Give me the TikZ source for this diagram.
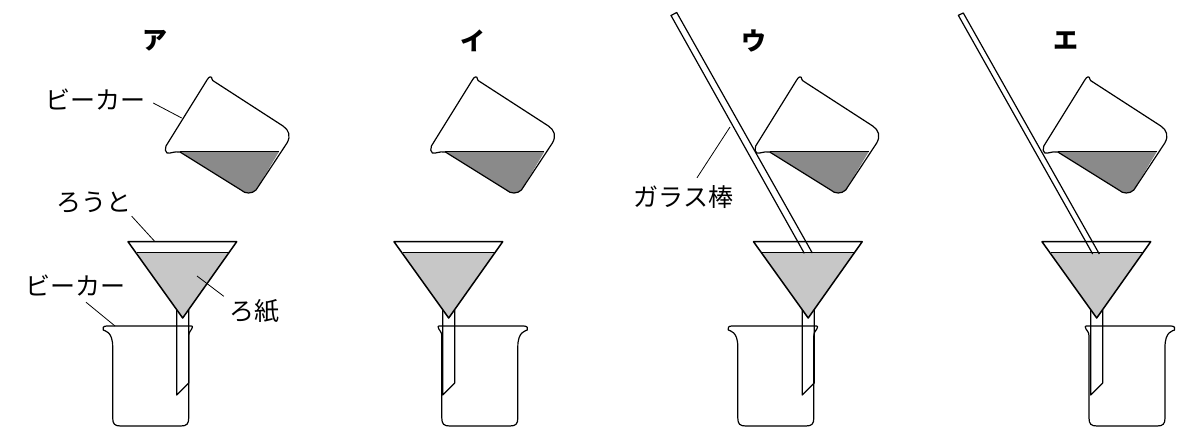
\documentclass[tikz,border=0pt]{standalone}
\usepackage{fontspec}
\usepackage{tikz}
\usetikzlibrary{calc}
\newfontfamily\jpfont{Noto Sans CJK JP}
\definecolor{LiquidGray}{gray}{0.54}
\definecolor{PaperGray}{gray}{0.78}
\tikzset{
  outline/.style={black,line width=1.2pt,line join=round},
  leader/.style={black,line width=0.8pt},
  label/.style={font=\jpfont\fontsize{25}{25}\selectfont,inner sep=0pt,text height=22pt,text depth=3pt},
  heading/.style={font=\jpfont\bfseries\fontsize{25}{25}\selectfont,inner sep=0pt},
  pourbeaker/.pic={
    \fill[LiquidGray] (180,151.7) -- (279,151.7) -- (256,190)
      .. controls (252,194) and (245,194) .. (241,190) -- cycle;
    \draw[outline] (180,151.7) -- (279,151.7);
    \draw[outline] (166,146) -- (207,80) .. controls (209,76) and (212,76) .. (212,79)
      .. controls (212,80) and (213,81) .. (215,82) -- (283,126)
      .. controls (289,130) and (291,136) .. (287,143) -- (256,190)
      .. controls (252,194) and (245,194) .. (241,190) -- (180,152)
      .. controls (174,151) and (170,154) .. (167,153)
      .. controls (165,152) and (165,149) .. (166,146);
  },
  funnelset/.pic={
    \draw[outline] (176.7,310) -- (176.7,395) -- (188.7,383) -- (188.7,310);
    \fill[PaperGray] (136.5,252.7) -- (228.8,252.7) -- (182.7,318) -- cycle;
    \draw[outline] (136.5,252.7) -- (228.8,252.7);
    \draw[outline,line width=1.5pt] (128,241.7) -- (236.7,241.7) -- (182.7,318) -- cycle;
  },
  glassbeaker/.pic={
    \draw[outline] (41,326) -- (-44,326) .. controls (-47,326) and (-49,328) .. (-47.5,330)
      .. controls (-46,331) and (-38,331) .. (-38,347) -- (-38,418)
      .. controls (-38,424) and (-36,426) .. (-30,426) -- (30,426)
      .. controls (36,426) and (38,424) .. (38,418) -- (38,336)
      .. controls (38,332) and (40,331) .. (41,329) .. controls (42,327) and (42,326) .. (41,326);
  },
}
\begin{document}
\begin{tikzpicture}[x=1pt,y=-1pt]
  \useasboundingbox (0,0) rectangle (1180,428);
  % upper beakers
  \foreach \shiftx in {0,265.4,589.7,877.8}
    \pic at (\shiftx,0) {pourbeaker};
  % lower beakers
  \pic at (150.7,0) {glassbeaker};
  \pic[xscale=-1] at (479.8,0) {glassbeaker};
  \pic at (775.8,0) {glassbeaker};
  \pic[xscale=-1] at (1127,0) {glassbeaker};
  % funnels
  \foreach \shiftx in {0,266,625.5,914}
    \pic at (\shiftx,0) {funnelset};
  % glass rods
  \draw[outline] (804.3,253.3) -- (671,15.5) -- (676.7,12.5) -- (812.3,253);
  \draw[outline] (1092.7,254) -- (958.3,15.3) -- (963.3,13) -- (1099.3,254);
  % headings
  \node[heading] (headA) at (155,41) {ア};
  \node[heading] (headB) at (473,41) {イ};
  \node[heading] (headC) at (754,41) {ウ};
  \node[heading] (headD) at (1066,41) {エ};
  % labels
  \node[label] (lblBeakerTop) at (95,100) {ビーカー};
  \node[label] (lblFunnel) at (94,202) {ろうと};
  \node[label] (lblBeakerLow) at (75,286) {ビーカー};
  \node[label] (lblPaper) at (254,311) {ろ紙};
  \node[label] (lblRod) at (683.5,197) {ガラス棒};
  \coordinate (tipBeakerTop) at (181.7,118);
  \coordinate (tipFunnel) at (155,241.7);
  \coordinate (tipBeakerLow) at (115,326);
  \coordinate (tipPaper) at (197,276);
  \coordinate (tipRod) at (730,127);
  \draw[leader] ($(lblBeakerTop.east)+(8,3)$) -- (tipBeakerTop);
  \draw[leader] ($(lblFunnel.south east)+(0,1.5)$) -- (tipFunnel);
  \draw[leader] ($(lblBeakerLow.south)+(11,3.5)$) -- (tipBeakerLow);
  \draw[leader] ($(lblPaper.north west)+(-5,-2)$) -- (tipPaper);
  \draw[leader] ($(lblRod.north)+(13.5,-6.5)$) -- (tipRod);
\end{tikzpicture}
\end{document}
